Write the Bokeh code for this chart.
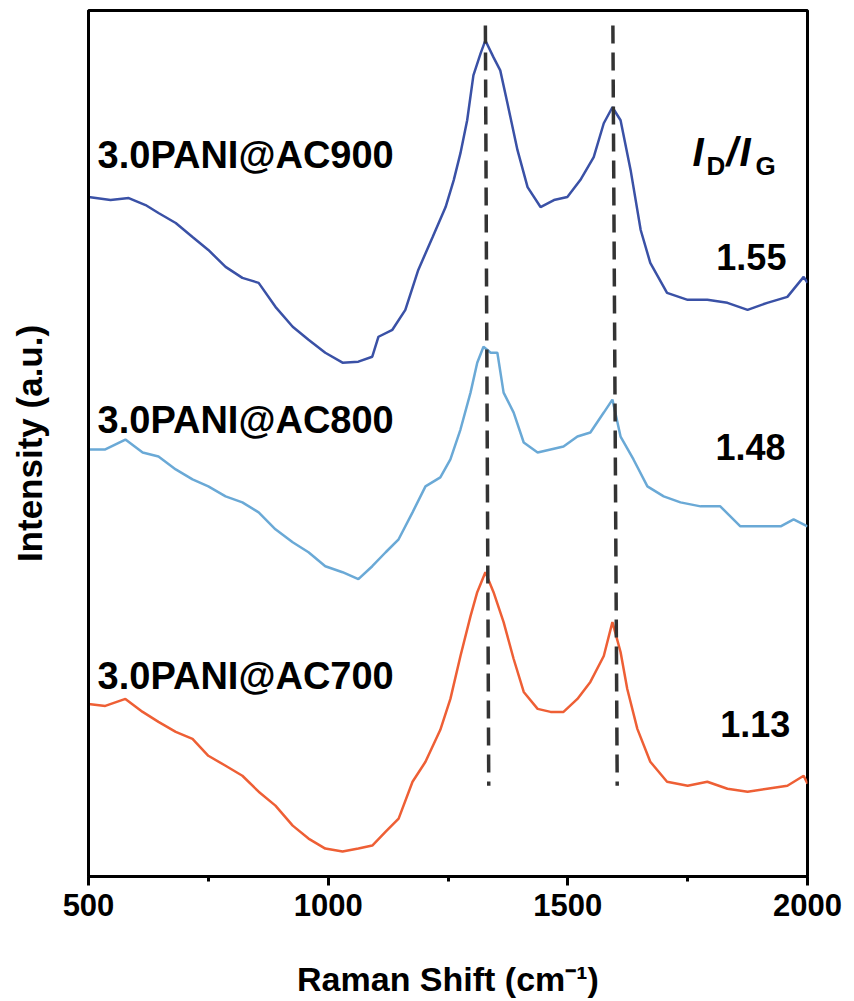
from bokeh.plotting import figure
from bokeh.models import Range1d, FixedTicker
from bokeh.core.properties import value
from bokeh.embed import file_html
from bokeh.resources import INLINE

# ---------------- data ----------------
x_ac900 = [500, 546, 584, 619, 646, 682, 717, 750, 786, 821, 855, 890, 926, 959, 994,
           1030, 1063, 1092, 1105, 1134, 1161, 1188, 1218, 1245, 1262, 1276, 1290, 1303,
           1318, 1328, 1345, 1359, 1374, 1395, 1416, 1443, 1471, 1499, 1526, 1554, 1575,
           1593, 1610, 1631, 1652, 1672, 1707, 1750, 1791, 1833, 1875, 1916, 1958, 1992, 2000]
y_ac900 = [681, 678, 680, 673, 665, 655, 641, 628, 611, 600, 595, 571, 551, 538, 525,
           515, 516, 521, 541, 548, 568, 608, 641, 671, 698, 725, 758, 803,
           825, 838, 821, 808, 775, 728, 691, 671, 678, 681, 698, 721, 755,
           771, 758, 708, 648, 615, 585, 578, 578, 575, 568, 575, 581, 601, 595]

x_ac800 = [500, 535, 577, 613, 646, 682, 717, 750, 786, 821, 855, 890, 926, 959, 994,
           1030, 1063, 1092, 1120, 1147, 1176, 1203, 1234, 1255, 1276, 1297, 1311, 1324,
           1339, 1353, 1366, 1387, 1408, 1437, 1464, 1491, 1520, 1547, 1575, 1593, 1610,
           1637, 1666, 1700, 1735, 1777, 1818, 1860, 1902, 1944, 1971, 2000]
y_ac800 = [428, 428, 438, 425, 421, 408, 398, 391, 381, 375, 365, 348, 335, 325, 311,
           305, 298, 311, 325, 338, 365, 391, 400, 418, 448, 485, 515, 531,
           525, 525, 485, 465, 435, 425, 428, 431, 441, 445, 465, 478, 441,
           418, 391, 381, 375, 371, 371, 351, 351, 351, 358, 351]

x_ac700 = [500, 535, 577, 613, 646, 682, 717, 750, 786, 821, 855, 890, 926, 959, 994,
           1030, 1063, 1092, 1120, 1147, 1176, 1203, 1234, 1255, 1276, 1297, 1311, 1328,
           1345, 1366, 1387, 1408, 1437, 1464, 1491, 1520, 1547, 1575, 1593, 1610, 1624,
           1645, 1672, 1707, 1750, 1791, 1833, 1875, 1916, 1958, 1992, 2000]
y_ac700 = [173, 171, 178, 165, 155, 145, 138, 121, 111, 101, 85, 71, 51, 38, 28,
           25, 28, 31, 45, 58, 95, 115, 147, 178, 221, 261, 285, 305,
           285, 255, 218, 185, 168, 165, 165, 178, 195, 221, 255, 225, 188,
           148, 115, 95, 91, 95, 88, 85, 88, 91, 101, 93]

sample_names = ["3.0PANI@AC900", "3.0PANI@AC800", "3.0PANI@AC700"]
ratio_labels = ["1.55", "1.48", "1.13"]
peak_top_x = [1328, 1594]     # dashed reference lines (D and G bands)
peak_bottom_x = [1335, 1603]
x_ticks = [500, 1000, 1500, 2000]
x_minor_ticks = [750, 1250, 1750]

# ---------------- figure ----------------
p = figure(width=850, height=1000, output_backend="svg", toolbar_location=None,
           x_range=Range1d(500, 2000), y_range=Range1d(0, 868),
           min_border_left=88, min_border_right=43, min_border_top=10, min_border_bottom=122)
p.background_fill_color = "white"
p.border_fill_color = "white"
p.outline_line_color = "black"
p.outline_line_width = 3
p.xgrid.visible = False
p.ygrid.visible = False

FONT = value("Liberation Sans")

# x axis
p.xaxis.ticker = FixedTicker(ticks=x_ticks, minor_ticks=x_minor_ticks)
p.xaxis.axis_line_width = 3
p.xaxis.major_tick_in = 0
p.xaxis.major_tick_out = 9
p.xaxis.minor_tick_in = 0
p.xaxis.minor_tick_out = 5
p.xaxis.major_tick_line_width = 3
p.xaxis.minor_tick_line_width = 3
p.xaxis.major_label_text_font = "Liberation Sans"
p.xaxis.major_label_text_font_style = "bold"
p.xaxis.major_label_text_font_size = "31px"
p.xaxis.major_label_text_color = "black"
p.xaxis.major_label_standoff = 8
p.xaxis.axis_label = "Raman Shift (cm\u207b\u00b9)"
p.xaxis.axis_label_text_font = "Liberation Sans"
p.xaxis.axis_label_text_font_style = "bold"
p.xaxis.axis_label_text_font_size = "34px"
p.xaxis.axis_label_text_color = "black"
p.xaxis.axis_label_standoff = 41

# y axis (no ticks)
p.yaxis.ticker = FixedTicker(ticks=[])
p.yaxis.axis_line_width = 3
p.yaxis.axis_label = "Intensity (a.u.)"
p.yaxis.axis_label_text_font = "Liberation Sans"
p.yaxis.axis_label_text_font_style = "bold"
p.yaxis.axis_label_text_font_size = "35px"
p.yaxis.axis_label_text_color = "black"
p.yaxis.axis_label_standoff = 40

# spectra
p.line(x_ac900, y_ac900, line_color="#3a51a6", line_width=2.5)
p.line(x_ac800, y_ac800, line_color="#6aa9d6", line_width=2.5)
p.line(x_ac700, y_ac700, line_color="#ee5f35", line_width=2.5)

# dashed band lines
p.segment(x0=peak_top_x, y0=[853, 853], x1=peak_bottom_x, y1=[91, 91],
          line_color="#333333", line_width=3.5, line_dash="18 9")

# sample labels
p.text(x=[519, 519, 519], y=[723, 458, 201], text=sample_names,
       text_font=FONT, text_font_style="bold", text_font_size="38px",
       text_align="left", text_baseline="alphabetic", text_color="black")

# ratio values
p.text(x=[1956, 1954, 1964], y=[621, 430, 153], text=ratio_labels,
       text_font=FONT, text_font_style="bold", text_font_size="36px",
       text_align="right", text_baseline="alphabetic", text_color="black")

# I_D / I_G heading
p.text(x=[1760, 1760, 1760], y=[726, 726, 726], text=["I", "/", "I"],
       x_offset=[0, 34, 47],
       text_font=FONT, text_font_style="bold italic", text_font_size="40px",
       text_align="left", text_baseline="alphabetic", text_color="black")
p.text(x=[1760, 1760], y=[712, 712], text=["D", "G"],
       x_offset=[14, 63],
       text_font=FONT, text_font_style="bold", text_font_size="26px",
       text_align="left", text_baseline="alphabetic", text_color="black")

open("out.html", "w").write(file_html(p, INLINE))
